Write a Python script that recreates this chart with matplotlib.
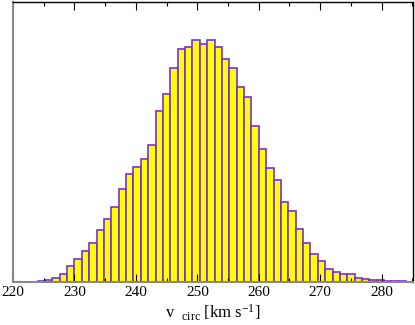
import numpy as np
import matplotlib
matplotlib.use("Agg")
import matplotlib.pyplot as plt
from matplotlib.ticker import MultipleLocator

# Histogram of circular velocity (bin width 1.2 km/s, first edge 224)
bin_start = 224.0
bin_width = 1.2
counts = [1.0, 2.0, 4.0, 8.0, 15.5, 22.7, 30.8, 38.5, 51.8, 62.5,
          74.2, 92.8, 107.8, 114.8, 122.8, 136.3, 170.3, 187.7, 213.3, 232.7,
          235.0, 241.8, 237.2, 241.8, 235.0, 223.0, 214.0, 195.0, 184.8, 155.5,
          132.7, 113.2, 101.3, 79.8, 70.8, 52.2, 38.8, 27.2, 20.8, 13.0,
          9.2, 7.3, 7.3, 4.0, 2.5, 1.5, 1.2, 0.8, 0.8, 0.5]
xticks = [220, 230, 240, 250, 260, 270, 280]

lefts = bin_start + bin_width * np.arange(len(counts))

plt.rcParams['mathtext.fontset'] = 'custom'
plt.rcParams['mathtext.rm'] = 'Liberation Serif'
plt.rcParams['mathtext.it'] = 'Liberation Serif:italic'
plt.rcParams['font.family'] = ['Liberation Serif', 'DejaVu Serif']

fig = plt.figure(figsize=(4.15, 3.25), dpi=100)
ax = fig.add_axes([13/415, 43.5/325, 400/415, 280/325])

ax.bar(lefts, counts, width=bin_width, align='edge',
       color='#ffff00', edgecolor='#7b2fd0', linewidth=1.2)

ax.set_xlim(220, 285.1)
ax.set_ylim(0, 280)
ax.set_xticks(xticks)
ax.xaxis.set_minor_locator(MultipleLocator(5))
ax.set_yticks([])
ax.tick_params(axis='x', which='both', direction='in', top=True, bottom=True,
               labelsize=11, pad=3, color='black')
ax.tick_params(axis='x', which='major', length=5.8, width=0.8)
ax.tick_params(axis='x', which='minor', length=2.9, width=0.8)

for s in ['left', 'bottom']:
    ax.spines[s].set_color('#888888')
    ax.spines[s].set_linewidth(1.5)
for s in ['top', 'right']:
    ax.spines[s].set_color('black')
    ax.spines[s].set_linewidth(1.0)

ax.set_xlabel(r'v  $_{\mathrm{circ}}$ [km s$^{\mathrm{-1}}$]', fontsize=12, labelpad=3)

fig.savefig('out.png', dpi=100)
